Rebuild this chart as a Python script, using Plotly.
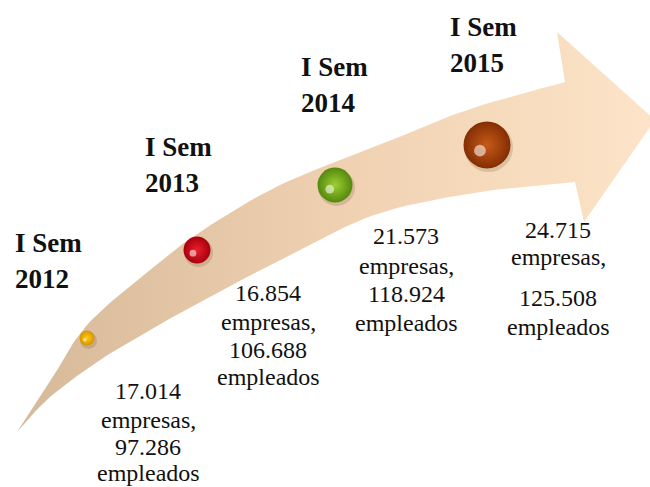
import numpy as np
import plotly.graph_objects as go

# data
periods = ["I Sem 2012", "I Sem 2013", "I Sem 2014", "I Sem 2015"]
empresas = [17014, 16854, 21573, 24715]
empleados = [97286, 106688, 118924, 125508]

# layout (pixel space, y grows downwards)
ball_x = [87, 197, 335, 487]
ball_y = [338, 250, 185, 145]
ball_size = [15, 27, 35, 47]
ball_color = ["#d89400", "#a8000c", "#55880e", "#842e04"]
ball_light = ["#ffcc10", "#e8202c", "#9ccf30", "#c65a18"]

title_x = [13, 143, 299, 448]
title_y = [243, 147, 67, 27]
value_x = [148, 268, 406, 558]
value_y = [391, 293, 236, 230]
value_offsets = [[0, 29, 56, 82], [0, 29, 57, 84], [0, 30, 58, 87], [0, 27, 68, 97]]

upper_edge = [(17, 432), (50, 382), (87, 325), (150, 270), (200, 232),
              (280, 185), (380, 145), (467, 110), (565, 82)]
head = [(557, 32), (655, 120), (584, 222)]
lower_edge = [(575, 182), (480, 192), (380, 213), (300, 250), (200, 302),
              (150, 330), (100, 360), (50, 397), (17, 432)]


def smooth(pts, n=12):
    # catmull-rom through the given points
    p = np.array(pts, dtype=float)
    p = np.vstack([p[0], p, p[-1]])
    out = []
    for i in range(1, len(p) - 2):
        p0, p1, p2, p3 = p[i - 1], p[i], p[i + 1], p[i + 2]
        for t in np.linspace(0, 1, n, endpoint=False):
            out.append(0.5 * ((2 * p1) + (-p0 + p2) * t
                              + (2 * p0 - 5 * p1 + 4 * p2 - p3) * t ** 2
                              + (-p0 + 3 * p1 - 3 * p2 + p3) * t ** 3))
    out.append(p[-2])
    return np.array(out)


up = smooth(upper_edge)
lo = smooth(lower_edge)
outline = np.vstack([up, np.array(head, dtype=float), lo])

fig = go.Figure()

fig.add_trace(go.Scatter(
    x=outline[:, 0], y=outline[:, 1], mode="lines", fill="toself",
    line=dict(width=0, color="rgba(0,0,0,0)"),
    fillgradient=dict(type="horizontal",
                      colorscale=[[0, "#d6b999"], [0.5, "#efd1b1"], [1, "#fde4c8"]]),
    hoverinfo="skip", showlegend=False))

# sphere shadows
fig.add_trace(go.Scatter(
    x=[x + 1.5 for x in ball_x], y=[y + 2.5 for y in ball_y], mode="markers",
    marker=dict(size=[s + 2 for s in ball_size], color="rgba(90,60,30,0.25)", line=dict(width=0)),
    hoverinfo="skip", showlegend=False))

fig.add_trace(go.Scatter(
    x=ball_x, y=ball_y, mode="markers",
    marker=dict(size=ball_size, color=ball_color, line=dict(width=0), opacity=1,
                gradient=dict(type="radial", color=ball_light)),
    text=[f"{p}: {e:,} empresas, {m:,} empleados".replace(",", ".")
          for p, e, m in zip(periods, empresas, empleados)],
    hoverinfo="text", showlegend=False))

# highlights
fig.add_trace(go.Scatter(
    x=[x - s * 0.15 for x, s in zip(ball_x, ball_size)],
    y=[y + s * 0.12 for y, s in zip(ball_y, ball_size)],
    mode="markers",
    marker=dict(size=[s * 0.25 for s in ball_size], color="rgba(255,255,255,0.8)", line=dict(width=0)),
    hoverinfo="skip", showlegend=False))

title_font = dict(family="Liberation Serif, Times New Roman, serif", size=27, color="#111111")
value_font = dict(family="Liberation Serif, Times New Roman, serif", size=24, color="#111111")

for i, p in enumerate(periods):
    sem, year = p.rsplit(" ", 1)
    for k, line in enumerate([sem, year]):
        fig.add_annotation(x=title_x[i], y=title_y[i] + 36 * k, text=f"<b>{line}</b>",
                           showarrow=False, xanchor="left", yanchor="middle", font=title_font)
    lines = [f"{empresas[i]:,}".replace(",", "."), "empresas,",
             f"{empleados[i]:,}".replace(",", "."), "empleados"]
    for k, line in enumerate(lines):
        fig.add_annotation(x=value_x[i], y=value_y[i] + value_offsets[i][k], text=line,
                           showarrow=False, xanchor="center", yanchor="middle", font=value_font)

fig.update_layout(
    width=650, height=487,
    margin=dict(l=0, r=0, t=0, b=0),
    paper_bgcolor="white", plot_bgcolor="white",
    xaxis=dict(range=[0, 650], visible=False, fixedrange=True),
    yaxis=dict(range=[487, 0], visible=False, fixedrange=True),
)

fig.write_html("out.html", config={"displayModeBar": False},
               post_script="document.body.style.margin='0';")
